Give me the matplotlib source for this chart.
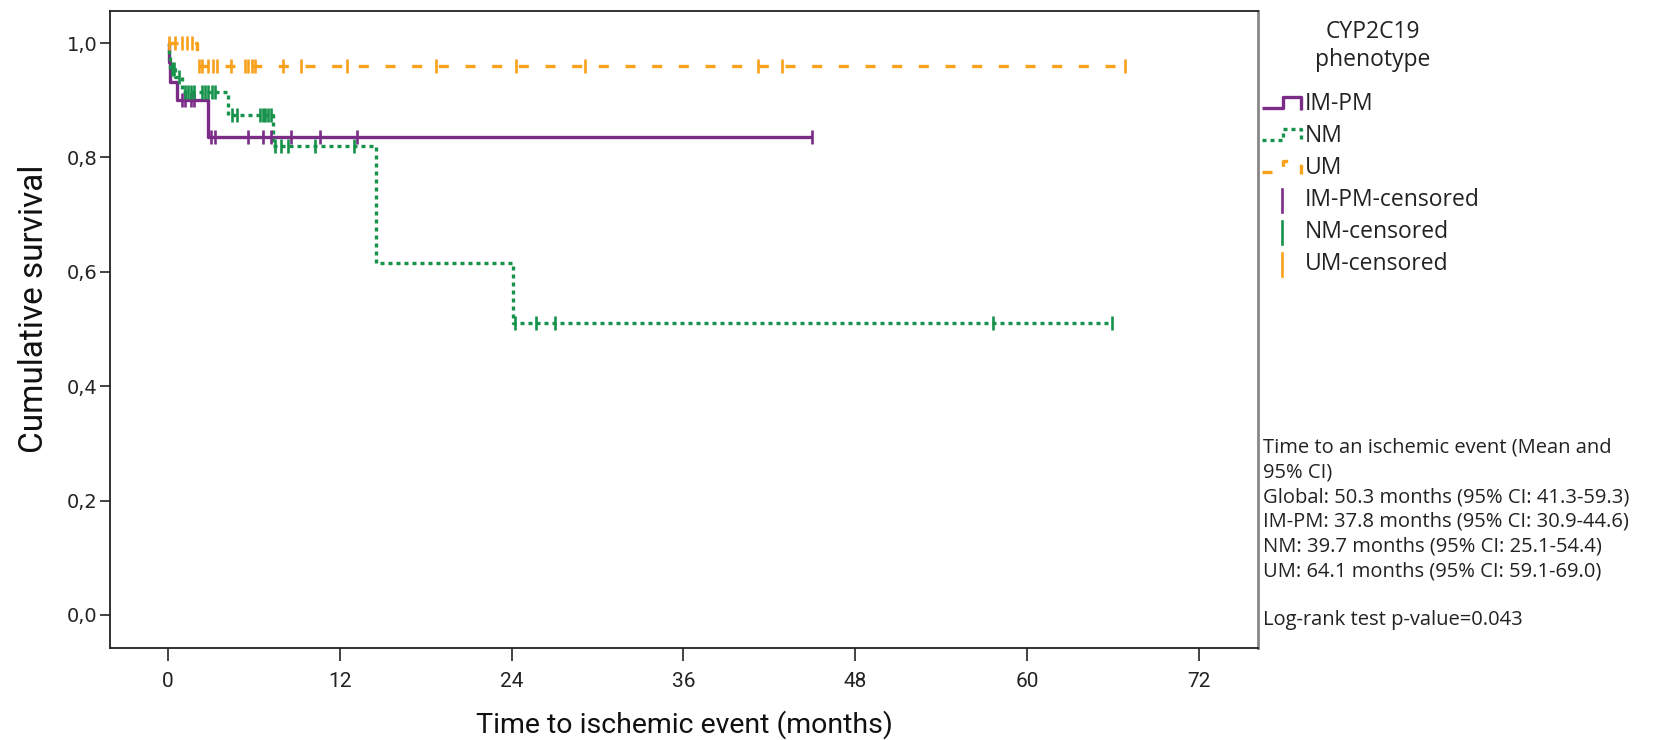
import numpy as np
import matplotlib
matplotlib.use("Agg")
import matplotlib.pyplot as plt
from matplotlib import font_manager

# ---------------- data ----------------
month_ticks = [0, 12, 24, 36, 48, 60, 72]
surv_ticks = [0.0, 0.2, 0.4, 0.6, 0.8, 1.0]
surv_tick_labels = ["0,0", "0,2", "0,4", "0,6", "0,8", "1,0"]

groups = ["IM-PM", "NM", "UM"]

impm_event_t = [0.05, 0.15, 0.6, 2.8]
impm_surv = [0.966, 0.932, 0.900, 0.836]
impm_end_t = 45.0
impm_censor_t = [1.0, 1.2, 1.6, 1.8, 3.0, 3.3, 5.6, 6.6, 7.2, 8.6, 10.6, 13.2, 45.0]

nm_event_t = [0.05, 0.15, 0.5, 1.0, 4.2, 7.3, 14.5, 24.1]
nm_surv = [0.975, 0.955, 0.940, 0.915, 0.874, 0.820, 0.615, 0.511]
nm_end_t = 65.9
nm_censor_t = [0.3, 0.4, 0.8, 1.2, 1.4, 1.6, 1.8, 2.4, 2.6, 2.8, 3.1, 3.3,
               4.5, 4.8, 6.4, 6.6, 6.8, 7.0, 7.2, 7.5, 7.9, 8.4, 10.3, 13.0,
               24.2, 25.7, 27.0, 57.6, 65.9]

um_event_t = [2.0]
um_surv = [0.960]
um_end_t = 66.8
um_censor_t = [0.1, 0.5, 1.0, 1.35, 1.65, 2.2, 2.4, 2.8, 3.15, 3.45, 4.4, 5.4,
               5.6, 5.85, 6.1, 8.0, 9.3, 12.5, 18.7, 24.3, 29.1, 41.2, 42.9, 66.8]

stats_lines = [
    "Time to an ischemic event (Mean and",
    "95% CI)",
    "Global: 50.3 months (95% CI: 41.3-59.3)",
    "IM-PM: 37.8 months (95% CI: 30.9-44.6)",
    "NM: 39.7 months (95% CI: 25.1-54.4)",
    "UM: 64.1 months (95% CI: 59.1-69.0)",
    "",
    "Log-rank test p-value=0.043",
]

# ---------------- style ----------------
W, H = 1671, 740
PURPLE = "#7B2C87"
GREEN = "#16924B"
ORANGE = "#F9A11B"
LW = 2.4

names = {f.name for f in font_manager.fontManager.ttflist}
NARROW = "Roboto" if "Roboto" in names else "DejaVu Sans"
SANS = "Open Sans" if "Open Sans" in names else "DejaVu Sans"

styles = {
    "IM-PM": dict(color=PURPLE, linestyle="-"),
    "NM": dict(color=GREEN, linestyle=(0, (1.2, 1.2))),
    "UM": dict(color=ORANGE, linestyle=(0, (3.0, 5.0))),
}

fig = plt.figure(figsize=(W / 100, H / 100), dpi=100)
L, R, T, B = 110, 1258, 11, 648
ax = fig.add_axes([L / W, 1 - B / H, (R - L) / W, (B - T) / H])

series = {
    "IM-PM": (impm_event_t, impm_surv, impm_end_t, impm_censor_t),
    "NM": (nm_event_t, nm_surv, nm_end_t, nm_censor_t),
    "UM": (um_event_t, um_surv, um_end_t, um_censor_t),
}

for g in groups:
    ev, sv, end, cen = series[g]
    t = np.r_[0.0, ev, end]
    s = np.r_[1.0, sv, sv[-1]]
    st = styles[g]
    ax.step(t, s, where="post", color=st["color"], linestyle=st["linestyle"],
            lw=LW, solid_capstyle="butt", dash_capstyle="butt", zorder=3)
    idx = np.searchsorted(np.asarray(ev), np.asarray(cen), side="right")
    sc = np.r_[1.0, sv][idx]
    ax.plot(cen, sc, linestyle="none", marker="|", markersize=9.5,
            markeredgewidth=1.9, color=st["color"], zorder=4)

ax.set_xlim(-4.05, 76.12)
ax.set_ylim(-0.0577, 1.056)
ax.set_xticks(month_ticks)
ax.set_xticklabels([str(m) for m in month_ticks], family=NARROW, fontsize=15)
ax.set_yticks(surv_ticks)
ax.set_yticklabels(surv_tick_labels, family="DejaVu Sans", fontsize=14)
ax.tick_params(axis="y", direction="out", length=7, width=1.2, pad=2, colors="#222222")
ax.tick_params(axis="x", direction="out", length=9, width=1.2, pad=8, colors="#222222")
for side in ["left", "bottom", "top"]:
    ax.spines[side].set_linewidth(1.3)
    ax.spines[side].set_color("#222222")
ax.spines["right"].set_linewidth(2.0)
ax.spines["right"].set_color("#888888")

ax.set_xlabel("Time to ischemic event (months)", family=NARROW, fontsize=20.5,
              labelpad=14, color="#111111")
ax.set_ylabel("Cumulative survival", family=NARROW, fontsize=24,
              labelpad=12, color="#111111")
ax.yaxis.set_label_coords(-0.052, 0.532)

# ---------------- legend & stats (overlay in pixel space) ----------------
ox = fig.add_axes([0, 0, 1, 1], facecolor="none")
ox.set_xlim(0, W)
ox.set_ylim(H, 0)
ox.axis("off")

ox.text(1373, 32, "CYP2C19", ha="center", va="center", family=SANS, fontsize=16.5, color="#222222")
ox.text(1373, 60, "phenotype", ha="center", va="center", family=SANS, fontsize=16.5, color="#222222")

leg_y = {"IM-PM": 104, "NM": 136, "UM": 168}
for g in groups:
    yc = leg_y[g]
    st = styles[g]
    ox.plot([1262, 1283, 1283, 1301, 1301], [yc + 4, yc + 4, yc - 7, yc - 7, yc + 6],
            color=st["color"], linestyle=st["linestyle"], lw=LW,
            solid_capstyle="butt", dash_capstyle="butt")
    ox.text(1305, yc, g, ha="left", va="center", family=SANS, fontsize=16.5, color="#222222")

cen_y = {"IM-PM": 200, "NM": 232, "UM": 264}
for g in groups:
    yc = cen_y[g]
    ox.plot([1282, 1282], [yc - 11, yc + 12], color=styles[g]["color"], lw=1.9)
    ox.text(1305, yc, g + "-censored", ha="left", va="center", family=SANS, fontsize=16.5,
            color="#222222")

for i, line in enumerate(stats_lines):
    if line:
        ox.text(1263, 448 + 24.6 * i, line, ha="left", va="center", family=SANS,
                fontsize=14.5, color="#222222")

fig.savefig("out.png", dpi=100)
